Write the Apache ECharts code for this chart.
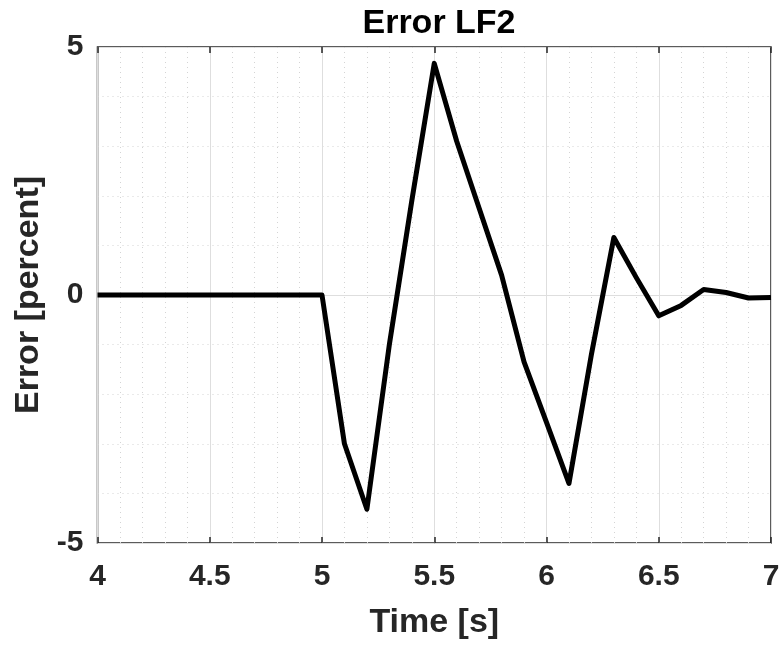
<!DOCTYPE html>
<html>
<head>
<meta charset="utf-8">
<script src="https://cdn.jsdelivr.net/npm/echarts@6/dist/echarts.min.js"></script>
<style>
  html, body { margin: 0; padding: 0; background: #fff; }
  #main { width: 784px; height: 645px; }
</style>
</head>
<body>
<div id="main"></div>
<script>
// time samples (s) and error (percent)
var time = [4.0, 4.1, 4.2, 4.3, 4.4, 4.5, 4.6, 4.7, 4.8, 4.9,
            5.0, 5.1, 5.2, 5.3, 5.4, 5.5, 5.6, 5.7, 5.8, 5.9,
            6.0, 6.1, 6.2, 6.3, 6.4, 6.5, 6.6, 6.7, 6.8, 6.9, 7.0];
var error = [0, 0, 0, 0, 0, 0, 0, 0, 0, 0,
             0, -3.0, -4.32, -1.0, 1.9, 4.67, 3.1, 1.75, 0.4, -1.35,
             -2.57, -3.8, -1.2, 1.16, 0.35, -0.42, -0.21, 0.11, 0.05, -0.06, -0.05];
var xTicks = [4, 4.5, 5, 5.5, 6, 6.5, 7];
var yTicks = [-5, 0, 5];

var font = 'Liberation Sans, Arial, Helvetica, sans-serif';
var myChart = echarts.init(document.getElementById('main'), null, { renderer: 'canvas' });

var pts = time.map(function (t, i) { return [t, error[i]]; });

var tickStyle = { show: true, inside: true, length: 6, lineStyle: { color: '#262626', width: 1.5 } };

var option = {
  animation: false,
  backgroundColor: '#fff',
  title: {
    text: 'Error LF2',
    left: 434,
    top: 2,
    textAlign: 'center',
    textStyle: { fontFamily: font, fontSize: 34, fontWeight: 'bold', color: '#000' }
  },
  grid: {
    left: 97.5, right: 13, top: 47, bottom: 101,
    show: true, borderColor: '#262626', borderWidth: 1.5, backgroundColor: '#fff'
  },
  xAxis: [
    {
      type: 'value', position: 'bottom',
      min: xTicks[0], max: xTicks[xTicks.length - 1], interval: 0.5,
      name: 'Time [s]', nameLocation: 'middle', nameGap: 63,
      nameTextStyle: { fontFamily: font, fontSize: 34, fontWeight: 'bold', color: '#262626' },
      axisLine: { show: false, onZero: false },
      axisTick: tickStyle,
      minorTick: { show: true, splitNumber: 5, length: 0 },
      axisLabel: { fontFamily: font, fontSize: 30, fontWeight: 'bold', color: '#262626', margin: 19 },
      splitLine: { show: true, lineStyle: { color: '#dedede', width: 1 } },
      minorSplitLine: { show: true, lineStyle: { color: '#d4d4d4', width: 1, type: [1, 4] } }
    },
    {
      type: 'value', position: 'top',
      min: xTicks[0], max: xTicks[xTicks.length - 1], interval: 0.5,
      axisLine: { show: false, onZero: false },
      axisTick: tickStyle,
      axisLabel: { show: false },
      splitLine: { show: false }
    }
  ],
  yAxis: {
    type: 'value',
    min: yTicks[0], max: yTicks[yTicks.length - 1], interval: 5,
    name: 'Error [percent]', nameLocation: 'middle', nameGap: 52,
    nameTextStyle: { fontFamily: font, fontSize: 34, fontWeight: 'bold', color: '#262626' },
    axisLine: { show: false, onZero: false },
    axisTick: { show: false },
    minorTick: { show: true, splitNumber: 5, length: 0 },
    axisLabel: { fontFamily: font, fontSize: 30, fontWeight: 'bold', color: '#262626', margin: 14 },
    splitLine: { show: true, lineStyle: { color: '#dedede', width: 1 } },
    minorSplitLine: { show: true, lineStyle: { color: '#d4d4d4', width: 1, type: [1, 4] } }
  },
  series: [
    {
      type: 'line',
      data: pts,
      showSymbol: false,
      lineStyle: { color: '#000', width: 5, join: 'round' },
      itemStyle: { color: '#000' }
    }
  ]
};

myChart.setOption(option);
window.onresize = function () {
  myChart.resize();
};
</script>
</body>
</html>
